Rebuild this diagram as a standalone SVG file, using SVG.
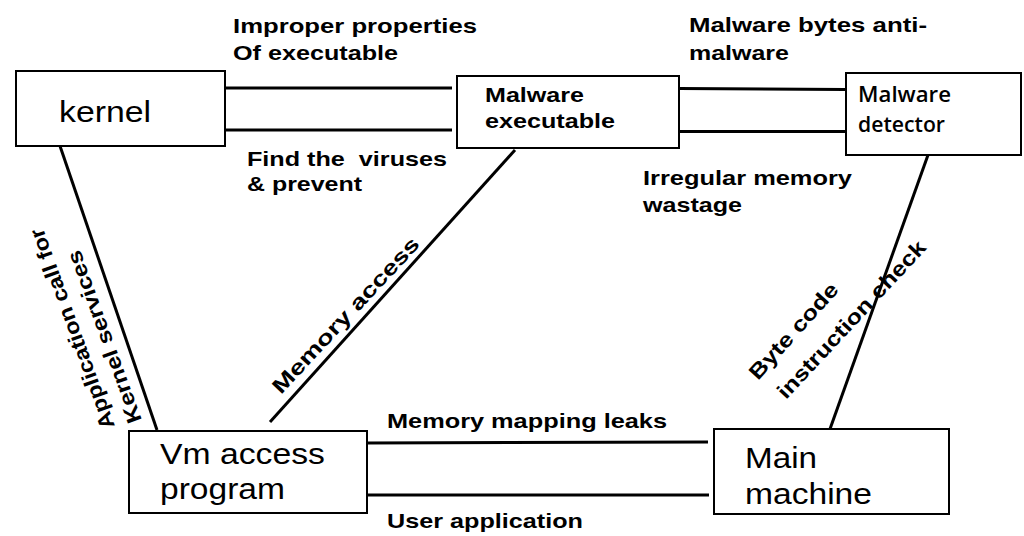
<svg xmlns="http://www.w3.org/2000/svg" width="1024" height="536" viewBox="0 0 1024 536">
<style>
.box{fill:#fff;stroke:#000;stroke-width:2}
.con{stroke:#000;stroke-width:3;fill:none;stroke-linecap:butt}
.lbl{font-family:"Liberation Sans",Arial,sans-serif;font-weight:bold;font-size:21px;fill:#000}
.big{font-family:"Liberation Sans",Arial,sans-serif;font-size:29px;fill:#000}
.det{font-family:"Open Sans","Liberation Sans",sans-serif;font-weight:600;font-size:21px;fill:#000}
</style>
<rect width="1024" height="536" fill="#fff"/>
<g id="connectors">
<line class="con" x1="225" y1="88" x2="452" y2="88"/>
<line class="con" x1="225" y1="130" x2="452" y2="130"/>
<line class="con" x1="679" y1="88.5" x2="845" y2="89.5"/>
<line class="con" x1="679" y1="131.5" x2="846" y2="131.5"/>
<line class="con" x1="367" y1="443" x2="708" y2="442"/>
<line class="con" x1="367" y1="495" x2="709" y2="495"/>
<line class="con" x1="60" y1="146" x2="157" y2="430"/>
<line class="con" x1="270" y1="422" x2="515" y2="150"/>
<line class="con" x1="928" y1="155" x2="830" y2="429"/>
<text class="lbl" x="233" y="33" textLength="244" lengthAdjust="spacingAndGlyphs">Improper properties</text>
<text class="lbl" x="233" y="60" textLength="165" lengthAdjust="spacingAndGlyphs">Of executable</text>
<text class="lbl" x="247" y="166" textLength="200" lengthAdjust="spacingAndGlyphs" xml:space="preserve">Find the  viruses</text>
<text class="lbl" x="247" y="191" textLength="115" lengthAdjust="spacingAndGlyphs">&amp; prevent</text>
<text class="lbl" x="689" y="32" textLength="238" lengthAdjust="spacingAndGlyphs">Malware bytes anti-</text>
<text class="lbl" x="689" y="60" textLength="100" lengthAdjust="spacingAndGlyphs">malware</text>
<text class="lbl" x="643" y="185" textLength="209" lengthAdjust="spacingAndGlyphs">Irregular memory</text>
<text class="lbl" x="643" y="212" textLength="99" lengthAdjust="spacingAndGlyphs">wastage</text>
<text class="lbl" x="387" y="428" textLength="280" lengthAdjust="spacingAndGlyphs">Memory mapping leaks</text>
<text class="lbl" x="387" y="528" textLength="196" lengthAdjust="spacingAndGlyphs">User application</text>
<text class="lbl" transform="translate(115,426) rotate(-110)" textLength="212" lengthAdjust="spacingAndGlyphs">Application call for</text>
<text class="lbl" transform="translate(142,420) rotate(-110)" textLength="182" lengthAdjust="spacingAndGlyphs">Kernel services</text>
<text class="lbl" transform="translate(281,395) rotate(-47)" textLength="205" lengthAdjust="spacingAndGlyphs">Memory access</text>
<text class="lbl" transform="translate(758,381) rotate(-48)" textLength="122" lengthAdjust="spacingAndGlyphs">Byte code</text>
<text class="lbl" transform="translate(786,400) rotate(-47)" textLength="207" lengthAdjust="spacingAndGlyphs">instruction check</text>
</g>
<g id="kernel">
<rect class="box" x="16" y="71" width="209" height="75"/>
<text class="big" x="59" y="122" textLength="92" lengthAdjust="spacingAndGlyphs">kernel</text>
</g>
<g id="malware-executable">
<rect class="box" x="457" y="76" width="222" height="72"/>
<text class="lbl" x="485" y="102" textLength="99" lengthAdjust="spacingAndGlyphs">Malware</text>
<text class="lbl" x="485" y="128" textLength="130" lengthAdjust="spacingAndGlyphs">executable</text>
</g>
<g id="malware-detector">
<rect class="box" x="846" y="73" width="175" height="82"/>
<text class="det" x="858" y="102" textLength="93" lengthAdjust="spacingAndGlyphs">Malware</text>
<text class="det" x="858" y="132" textLength="87" lengthAdjust="spacingAndGlyphs">detector</text>
</g>
<g id="vm-access-program">
<rect class="box" x="129" y="431" width="238" height="82"/>
<text class="big" x="160" y="464" textLength="165" lengthAdjust="spacingAndGlyphs">Vm access</text>
<text class="big" x="160" y="499" textLength="125" lengthAdjust="spacingAndGlyphs">program</text>
</g>
<g id="main-machine">
<rect class="box" x="714" y="429" width="235" height="85"/>
<text class="big" x="745" y="468" textLength="72" lengthAdjust="spacingAndGlyphs">Main</text>
<text class="big" x="745" y="504" textLength="127" lengthAdjust="spacingAndGlyphs">machine</text>
</g>
</svg>
